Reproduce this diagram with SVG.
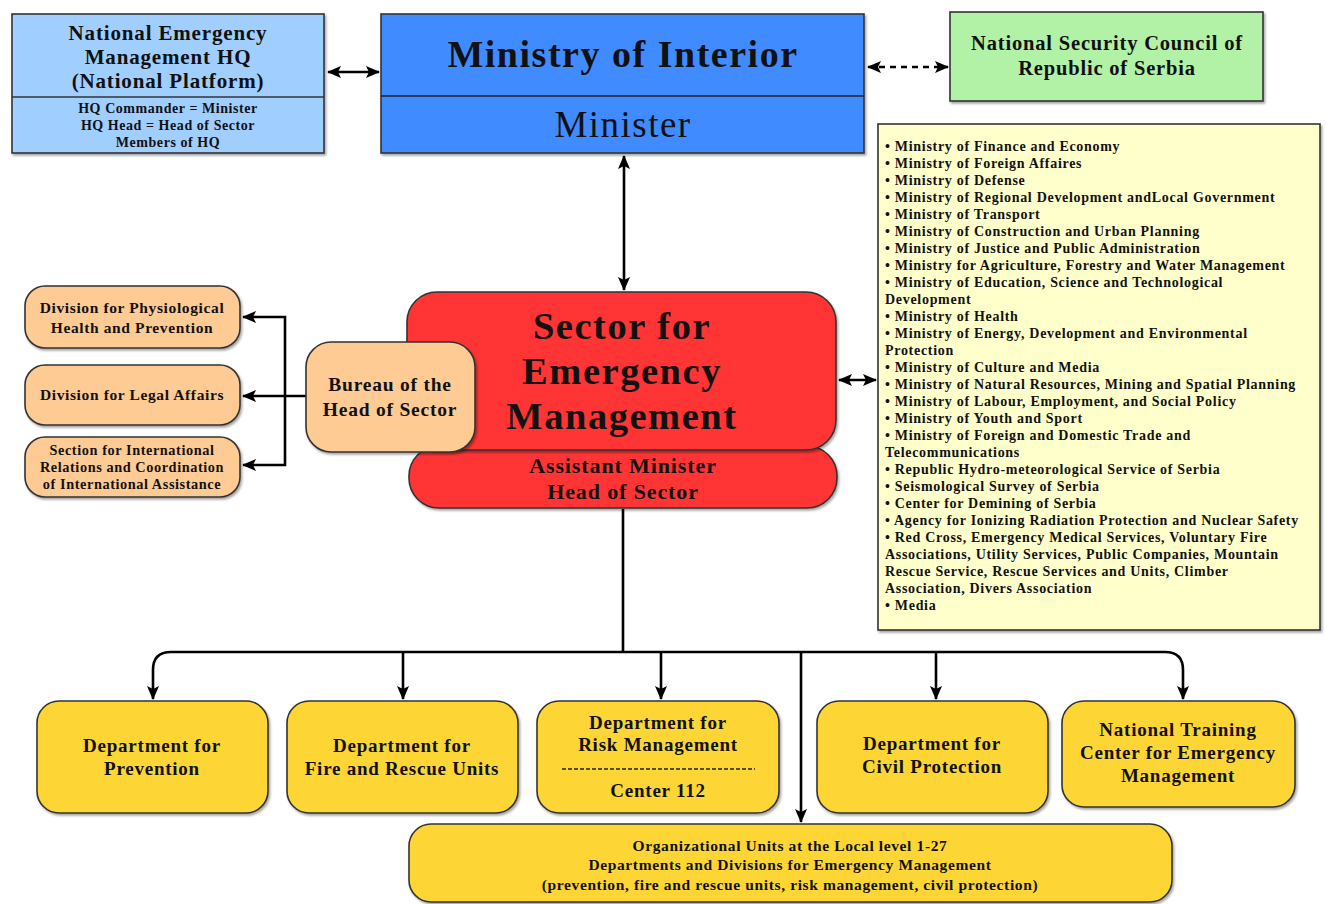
<svg xmlns="http://www.w3.org/2000/svg" width="1326" height="904" viewBox="0 0 1326 904">
<defs>
<marker id="ah" viewBox="0 0 14 12" refX="13" refY="6" markerWidth="14" markerHeight="12" markerUnits="userSpaceOnUse" orient="auto-start-reverse">
<path d="M0,0 L14,6 L0,12 L3,6 Z" fill="#000"/>
</marker>
<filter id="sh" x="-5%" y="-5%" width="110%" height="115%">
<feDropShadow dx="1.5" dy="2" stdDeviation="1.2" flood-color="#000" flood-opacity="0.35"/>
</filter>
</defs>
<style>
text{font-family:"Liberation Serif","DejaVu Serif",serif;font-weight:bold;fill:#111;text-anchor:middle;letter-spacing:0.04em}
.box{stroke:#333;stroke-width:1.6;filter:url(#sh)}
.blue{fill:#a0ceff}
.moi{fill:#3f8bff}
.green{fill:#b2f2a6}
.list{fill:#ffffcc}
.red{fill:#ff3636}
.peach{fill:#ffcb94}
.gold{fill:#fdd636}
.ln{stroke:#000;stroke-width:2.6;fill:none}
.lst text{text-anchor:start;font-size:14px;letter-spacing:0.7px}
.dep{font-size:19px}
</style>
<g id="connectors">
<line class="ln" x1="328" y1="72" x2="379" y2="72" marker-start="url(#ah)" marker-end="url(#ah)"/>
<line class="ln" x1="868" y1="67" x2="948" y2="67" stroke-dasharray="6,5" marker-start="url(#ah)" marker-end="url(#ah)"/>
<line class="ln" x1="624" y1="156" x2="624" y2="290" marker-start="url(#ah)" marker-end="url(#ah)"/>
<line class="ln" x1="839" y1="380" x2="876" y2="380" marker-start="url(#ah)" marker-end="url(#ah)"/>
<line class="ln" x1="306" y1="396" x2="243" y2="396" marker-end="url(#ah)"/>
<path class="ln" d="M285,396 V317 H243" marker-end="url(#ah)"/>
<path class="ln" d="M285,396 V465 H243" marker-end="url(#ah)"/>
<line class="ln" x1="623" y1="509" x2="623" y2="652"/>
<path class="ln" d="M623,652 H1165 Q1183,652 1183,670 V699" marker-end="url(#ah)"/>
<path class="ln" d="M623,652 H171 Q153,652 153,670 V699" marker-end="url(#ah)"/>
<line class="ln" x1="403" y1="652" x2="403" y2="699" marker-end="url(#ah)"/>
<line class="ln" x1="661" y1="652" x2="661" y2="699" marker-end="url(#ah)"/>
<line class="ln" x1="936" y1="652" x2="936" y2="699" marker-end="url(#ah)"/>
<line class="ln" x1="801" y1="652" x2="801" y2="822" marker-end="url(#ah)"/>
</g>
<g id="nem-hq">
<rect class="box blue" x="12" y="14" width="312" height="139"/>
<line x1="12" y1="97" x2="324" y2="97" stroke="#333" stroke-width="1.6"/>
<text x="168" y="40" font-size="21">National Emergency</text>
<text x="168" y="64" font-size="21">Management HQ</text>
<text x="168" y="88" font-size="21">(National Platform)</text>
<text x="168" y="113" font-size="14">HQ Commander = Minister</text>
<text x="168" y="130" font-size="14">HQ Head = Head of Sector</text>
<text x="168" y="147" font-size="14">Members of HQ</text>
</g>
<g id="ministry-interior">
<rect class="box moi" x="381" y="14" width="483" height="139"/>
<line x1="381" y1="96" x2="864" y2="96" stroke="#222" stroke-width="1.6"/>
<text x="623" y="67" font-size="38">Ministry of Interior</text>
<text x="623" y="137" font-size="37" style="font-weight:normal">Minister</text>
</g>
<g id="nsc">
<rect class="box green" x="950" y="12" width="313" height="89"/>
<text x="1107" y="50" font-size="20.5">National Security Council of</text>
<text x="1107" y="75" font-size="20.5">Republic of Serbia</text>
</g>
<g id="partners" class="lst">
<rect class="box list" x="878" y="124" width="442" height="506"/>
<text x="885" y="151">• Ministry of Finance and Economy</text>
<text x="885" y="168">• Ministry of Foreign Affaires</text>
<text x="885" y="185">• Ministry of Defense</text>
<text x="885" y="202">• Ministry of Regional Development andLocal Government</text>
<text x="885" y="219">• Ministry of Transport</text>
<text x="885" y="236">• Ministry of Construction and Urban Planning</text>
<text x="885" y="253">• Ministry of Justice and Public Administration</text>
<text x="885" y="270">• Ministry for Agriculture, Forestry and Water Management</text>
<text x="885" y="287">• Ministry of Education, Science and Technological</text>
<text x="885" y="304">Development</text>
<text x="885" y="321">• Ministry of Health</text>
<text x="885" y="338">• Ministry of Energy, Development and Environmental</text>
<text x="885" y="355">Protection</text>
<text x="885" y="372">• Ministry of Culture and Media</text>
<text x="885" y="389">• Ministry of Natural Resources, Mining and Spatial Planning</text>
<text x="885" y="406">• Ministry of Labour, Employment, and Social Policy</text>
<text x="885" y="423">• Ministry of Youth and Sport</text>
<text x="885" y="440">• Ministry of Foreign and Domestic Trade and</text>
<text x="885" y="457">Telecommunications</text>
<text x="885" y="474">• Republic Hydro-meteorological Service of Serbia</text>
<text x="885" y="491">• Seismological Survey of Serbia</text>
<text x="885" y="508">• Center for Demining of Serbia</text>
<text x="885" y="525">• Agency for Ionizing Radiation Protection and Nuclear Safety</text>
<text x="885" y="542">• Red Cross, Emergency Medical Services, Voluntary Fire</text>
<text x="885" y="559">Associations, Utility Services, Public Companies, Mountain</text>
<text x="885" y="576">Rescue Service, Rescue Services and Units, Climber</text>
<text x="885" y="593">Association, Divers Association</text>
<text x="885" y="610">• Media</text>
</g>
<g id="sector">
<rect class="box red" x="409" y="446" width="428" height="62" rx="30"/>
<rect class="box red" x="407" y="292" width="429" height="158" rx="30"/>
<text x="622" y="339" font-size="38.5">Sector for</text>
<text x="622" y="384" font-size="38.5">Emergency</text>
<text x="622" y="429" font-size="38.5">Management</text>
<text x="623" y="473" font-size="22">Assistant Minister</text>
<text x="623" y="499" font-size="22">Head of Sector</text>
</g>
<g id="bureau">
<rect class="box peach" x="306" y="342" width="169" height="110" rx="25"/>
<text x="390" y="391" font-size="19.5">Bureau of the</text>
<text x="390" y="416" font-size="19.5">Head of Sector</text>
</g>
<g id="div-physio">
<rect class="box peach" x="25" y="286" width="215" height="62" rx="20"/>
<text x="132" y="313" font-size="15.5">Division for Physiological</text>
<text x="132" y="333" font-size="15.5">Health and Prevention</text>
</g>
<g id="div-legal">
<rect class="box peach" x="25" y="365" width="215" height="60" rx="20"/>
<text x="132" y="400" font-size="15.5">Division for Legal Affairs</text>
</g>
<g id="sec-intl">
<rect class="box peach" x="25" y="437" width="215" height="60" rx="20"/>
<text x="132" y="455" font-size="14.3">Section for International</text>
<text x="132" y="472" font-size="14.3">Relations and Coordination</text>
<text x="132" y="489" font-size="14.3">of International Assistance</text>
</g>
<g id="dep-prevention">
<rect class="box gold" x="37" y="701" width="231" height="112" rx="22"/>
<text class="dep" x="152" y="752">Department for</text>
<text class="dep" x="152" y="775">Prevention</text>
</g>
<g id="dep-fire">
<rect class="box gold" x="287" y="701" width="231" height="112" rx="22"/>
<text class="dep" x="402" y="752">Department for</text>
<text class="dep" x="402" y="775">Fire and Rescue Units</text>
</g>
<g id="dep-risk">
<rect class="box gold" x="537" y="701" width="242" height="112" rx="22"/>
<text class="dep" x="658" y="729">Department for</text>
<text class="dep" x="658" y="751">Risk Management</text>
<line x1="562" y1="769" x2="755" y2="769" stroke="#222" stroke-width="1.4" stroke-dasharray="4,2"/>
<text class="dep" x="658" y="797">Center 112</text>
</g>
<g id="dep-civil">
<rect class="box gold" x="817" y="701" width="231" height="112" rx="22"/>
<text class="dep" x="932" y="750">Department for</text>
<text class="dep" x="932" y="773">Civil Protection</text>
</g>
<g id="training-center">
<rect class="box gold" x="1062" y="701" width="233" height="106" rx="22"/>
<text class="dep" x="1178" y="736">National Training</text>
<text class="dep" x="1178" y="759">Center for Emergency</text>
<text class="dep" x="1178" y="782">Management</text>
</g>
<g id="local-units">
<rect class="box gold" x="409" y="824" width="763" height="78" rx="22"/>
<text x="790" y="851" font-size="15.5">Organizational Units at the Local level 1-27</text>
<text x="790" y="870" font-size="15.5">Departments and Divisions for Emergency Management</text>
<text x="790" y="890" font-size="15.5">(prevention, fire and rescue units, risk management, civil protection)</text>
</g>
</svg>
